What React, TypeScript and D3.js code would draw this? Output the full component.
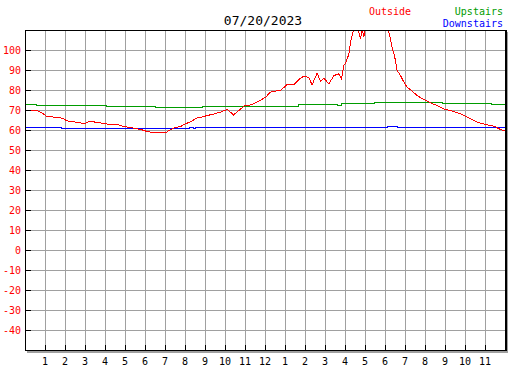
import React from 'react'
import * as d3 from 'd3'

// outside temperature (hour of day, deg F)
const outsideHours = [0, 0.25, 0.58, 0.83, 1.08, 1.67, 1.9, 2.08, 2.33, 2.75, 2.92, 3.17, 3.5, 3.92, 4.25, 4.67, 4.92, 5.42, 5.83, 6.08, 6.5, 7.0, 7.17, 7.42, 7.75, 8.0, 8.33, 8.58, 8.83, 9.08, 9.33, 9.58, 9.75, 10.1, 10.4, 10.67, 10.92, 11.25, 11.58, 12.0, 12.25, 12.5, 12.75, 13.08, 13.42, 13.67, 13.92, 14.08, 14.17, 14.33, 14.58, 14.75, 14.92, 15.17, 15.42, 15.67, 15.8, 15.92, 16.03, 16.17, 16.25, 16.42, 16.6, 16.75, 16.83, 16.92, 17.0, 17.2, 17.5, 17.8, 18.1, 18.25, 18.33, 18.42, 18.5, 18.58, 18.75, 18.92, 19.08, 19.33, 19.58, 19.92, 20.25, 20.58, 20.92, 21.33, 21.75, 22.17, 22.58, 23.0, 23.42, 23.75, 24]
const outsideTemps = [70.2, 69.8, 70, 68.8, 66.8, 66.7, 65.8, 64.8, 64.5, 63.8, 63.3, 64.5, 64.2, 63.5, 63, 62.8, 62, 61.2, 60.3, 59.5, 58.8, 58.8, 60, 61.2, 62, 63.3, 64.8, 66.3, 66.7, 67.5, 68, 68.7, 69.2, 70.5, 67.8, 70, 72.2, 72.8, 74.2, 76.6, 79.2, 79.7, 80, 83, 82.8, 85.5, 87.2, 86.7, 86.3, 82.8, 88.7, 84.5, 86.2, 83.3, 87.5, 88.3, 85.8, 92.5, 94.2, 98.3, 104, 111, 112, 105.8, 111, 106.7, 112, 116, 120, 118, 112, 105.8, 101.7, 98.3, 95, 90, 87.5, 84.2, 81.7, 79.7, 77.5, 75.5, 73.8, 72.5, 70.8, 69.7, 68.3, 66.3, 64.2, 63, 62.2, 60.5, 59.8]

const upstairsHours = [0, 0.55, 4.05, 6.5, 7.33, 8.83, 13.67, 15.58, 15.8, 17.45, 20.87, 23.3, 24]
const upstairsTemps = [72.8, 72.3, 71.8, 71.3, 71.7, 72.2, 72.8, 72.3, 73.3, 73.8, 73.3, 72.8, 72.8]

const downstairsHours = [0, 1.8, 2.2, 8.2, 8.4, 8.5, 18.1, 18.6, 24]
const downstairsTemps = [61.3, 61.0, 60.8, 61.3, 60.8, 61.3, 62, 61.3, 61.3]

const yTicks = [-40, -30, -20, -10, 0, 10, 20, 30, 40, 50, 60, 70, 80, 90, 100]
const xTicks = d3.range(1, 24)
const xLabels = xTicks.map(h => String(h % 12 === 0 ? 12 : h % 12))

const title = '07/20/2023'

const W = 527
const H = 370
const left = 25
const right = 505
const top = 30
const bottom = 350

const App = () => {
  const x = d3.scaleLinear([0, 24], [left, right])
  const y = d3.scaleLinear([-50, 110], [bottom, top])

  const px = (v: number) => Math.round(v) + 0.5

  const lineOut = d3.line<number>()
    .x((_, i) => x(outsideHours[i]) + 0.5)
    .y(d => y(d) + 0.5)
  const stepLine = (hours: number[]) => d3.line<number>()
    .x((_, i) => px(x(hours[i])))
    .y(d => px(y(d)))
    .curve(d3.curveStepAfter)

  const font = '"DejaVu Sans Mono", monospace'

  return (
    <svg width={W} height={H} style={{ position: 'absolute', left: 0, top: 0, background: '#fff' }}>
      <defs>
        <clipPath id="plot">
          <rect x={left} y={top + 1} width={right - left} height={bottom - top - 1} />
        </clipPath>
      </defs>

      {/* grid */}
      <g stroke="#a0a0a0" strokeWidth={1} shapeRendering="crispEdges">
        {xTicks.map(h => (
          <line key={'gx' + h} x1={px(x(h))} x2={px(x(h))} y1={top} y2={bottom} />
        ))}
        {yTicks.map(v => (
          <line key={'gy' + v} x1={left} x2={right} y1={px(y(v))} y2={px(y(v))} />
        ))}
      </g>

      {/* data */}
      <g clipPath="url(#plot)" fill="none" strokeWidth={1}>
        <path d={stepLine(upstairsHours)(upstairsTemps) ?? ''} stroke="#009c00" shapeRendering="crispEdges" />
        <path d={stepLine(downstairsHours)(downstairsTemps) ?? ''} stroke="#0000ff" shapeRendering="crispEdges" />
        <path d={lineOut(outsideTemps) ?? ''} stroke="#ff0000" shapeRendering="crispEdges" />
      </g>

      {/* frame + shadow */}
      <g shapeRendering="crispEdges">
        <line x1={left + 2} x2={right + 3} y1={bottom + 2} y2={bottom + 2} stroke="#a0a0a0" strokeWidth={2} />
        <line x1={right + 2} x2={right + 2} y1={top + 2} y2={bottom + 3} stroke="#a0a0a0" strokeWidth={2} />
        <line x1={left} x2={right + 1} y1={px(top)} y2={px(top)} stroke="#000" />
        <line x1={left} x2={right + 1} y1={px(bottom)} y2={px(bottom)} stroke="#000" />
        <line x1={px(left)} x2={px(left)} y1={top} y2={bottom + 1} stroke="#000" />
        <line x1={right + 1} x2={right + 1} y1={top} y2={bottom + 1} stroke="#000" strokeWidth={2} />
        {yTicks.map(v => (
          <line key={'ty' + v} x1={left} x2={left + 6} y1={px(y(v))} y2={px(y(v))} stroke="#000" />
        ))}
        {xTicks.map(h => (
          <line key={'tx' + h} x1={px(x(h))} x2={px(x(h))} y1={bottom - 5} y2={bottom} stroke="#000" />
        ))}
      </g>

      {/* labels */}
      <g fontFamily={font} fontSize={10} fill="#ff0000" textAnchor="end">
        {yTicks.map(v => (
          <text key={'ly' + v} x={21} y={y(v) + 4}>{v}</text>
        ))}
      </g>
      <g fontFamily={font} fontSize={10} fill="#000" textAnchor="middle">
        {xTicks.map((h, i) => (
          <text key={'lx' + h} x={x(h)} y={365}>{xLabels[i]}</text>
        ))}
      </g>
      <text x={263} y={25} fontFamily={font} fontSize={13} textAnchor="middle" fill="#000">{title}</text>
      <text x={369} y={15} fontFamily={font} fontSize={10} fill="#ff0000">Outside</text>
      <text x={503} y={15} fontFamily={font} fontSize={10} fill="#009c00" textAnchor="end">Upstairs</text>
      <text x={503} y={27} fontFamily={font} fontSize={10} fill="#0000ff" textAnchor="end">Downstairs</text>
    </svg>
  )
}

export default App
